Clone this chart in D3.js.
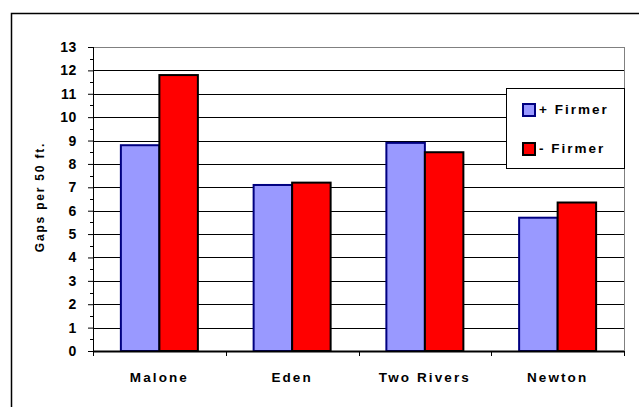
<!DOCTYPE html>
<html><head><meta charset="utf-8">
<script src="https://cdn.jsdelivr.net/npm/d3@7"></script>
<style>body{margin:0;background:#fff}svg{display:block}</style>
</head><body>
<script>
const categories = ["Malone", "Eden", "Two Rivers", "Newton"];
const seriesNames = ["+ Firmer", "- Firmer"];
const plusFirmer = [8.8, 7.1, 8.9, 5.7];
const minusFirmer = [11.8, 7.2, 8.5, 6.35];
const yTicks = [0,1,2,3,4,5,6,7,8,9,10,11,12,13];
const fills = ["#9999FF", "#FF0000"];
const strokes = ["#000080", "#000000"];

const W = 639, H = 407;
const svg = d3.select("body").append("svg").attr("width", W).attr("height", H);
const font = "Arial, 'Liberation Sans', sans-serif";

// outer frame
svg.append("rect").attr("x", 11.5).attr("y", 13.5).attr("width", 700).attr("height", 500)
  .attr("fill", "none").attr("stroke", "#000").attr("stroke-width", 1.5);

const L = 93, R = 624, T = 47, B = 351;
const x = d3.scaleBand().domain(categories).range([L, R]);
const xs = d3.scaleBand().domain(seriesNames).range([0, x.bandwidth()]).paddingInner(0).paddingOuter(0.724);
const y = d3.scaleLinear().domain([0, 13]).range([B, T]);

// gridlines
svg.append("g").selectAll("line").data(yTicks.slice(1, -1)).join("line")
  .attr("x1", L).attr("x2", R).attr("y1", d => Math.round(y(d)) + 0.5).attr("y2", d => Math.round(y(d)) + 0.5)
  .attr("stroke", "#000").attr("stroke-width", 1);
// plot border
svg.append("rect").attr("x", L + 0.5).attr("y", Math.round(y(13)) + 0.5).attr("width", R - L).attr("height", B - Math.round(y(13)))
  .attr("fill", "none").attr("stroke", "#808080").attr("stroke-width", 1);

// bars
const data = categories.map((c, i) => ({c, vals: [plusFirmer[i], minusFirmer[i]]}));
const g = svg.append("g");
data.forEach(d => {
  d.vals.forEach((v, j) => {
    g.append("rect")
      .attr("x", x(d.c) + xs(seriesNames[j]))
      .attr("y", y(v))
      .attr("width", xs.bandwidth())
      .attr("height", y(0) - y(v))
      .attr("fill", fills[j]).attr("stroke", strokes[j]).attr("stroke-width", 2);
  });
});

// y axis
const yAxis = d3.axisLeft(y).tickValues(yTicks).tickSize(5).tickPadding(11).tickFormat(d3.format("d"));
const ya = svg.append("g").attr("transform", `translate(${L},0)`).call(yAxis);
ya.select(".domain").attr("d", `M0.5,${T}V${B}`).attr("stroke", "#000");
ya.selectAll("text").attr("font-family", font).attr("font-size", 14).attr("font-weight", "bold")
  .attr("letter-spacing", 0.6).attr("fill", "#000");
// minor ticks
const minor = yTicks.slice(0, -1).map(d => d + 0.5);
svg.append("g").selectAll("line").data(minor).join("line")
  .attr("x1", L - 3).attr("x2", L).attr("y1", d => Math.round(y(d)) + 0.5).attr("y2", d => Math.round(y(d)) + 0.5)
  .attr("stroke", "#000");

// x axis
const xAxis = d3.axisBottom(x).tickSize(0).tickPadding(21);
const xa = svg.append("g").attr("transform", `translate(0,${B})`).call(xAxis);
xa.select(".domain").attr("d", `M${L},0.5H${R}`).attr("stroke", "#000").attr("stroke-width", 2);
xa.selectAll("text").attr("font-family", font).attr("font-size", 13.5).attr("font-weight", "bold")
  .attr("letter-spacing", 2.1).attr("fill", "#000");
// category boundary ticks
svg.append("g").selectAll("line").data(d3.range(categories.length + 1)).join("line")
  .attr("x1", i => Math.round(L + i * x.step()) + 0.5).attr("x2", i => Math.round(L + i * x.step()) + 0.5)
  .attr("y1", B).attr("y2", B + 5).attr("stroke", "#000");

// y label
svg.append("text").attr("transform", `translate(44,197) rotate(-90)`)
  .attr("text-anchor", "middle").attr("font-family", font).attr("font-size", 12).attr("font-weight", "bold")
  .attr("letter-spacing", 1.8).text("Gaps per 50 ft.");

// legend
const lg = svg.append("g");
lg.append("rect").attr("x", 506.5).attr("y", 88.5).attr("width", 118).attr("height", 80)
  .attr("fill", "#fff").attr("stroke", "#000");
seriesNames.forEach((s, j) => {
  const yy = 104 + j * 39;
  lg.append("rect").attr("x", 523).attr("y", yy).attr("width", 12).attr("height", 12)
    .attr("fill", fills[j]).attr("stroke", strokes[j]).attr("stroke-width", 2);
  lg.append("text").attr("x", 539).attr("y", yy + 10).attr("font-family", font).attr("font-size", 13.5)
    .attr("font-weight", "bold").attr("letter-spacing", 2).text(s);
});
</script>
</body></html>
